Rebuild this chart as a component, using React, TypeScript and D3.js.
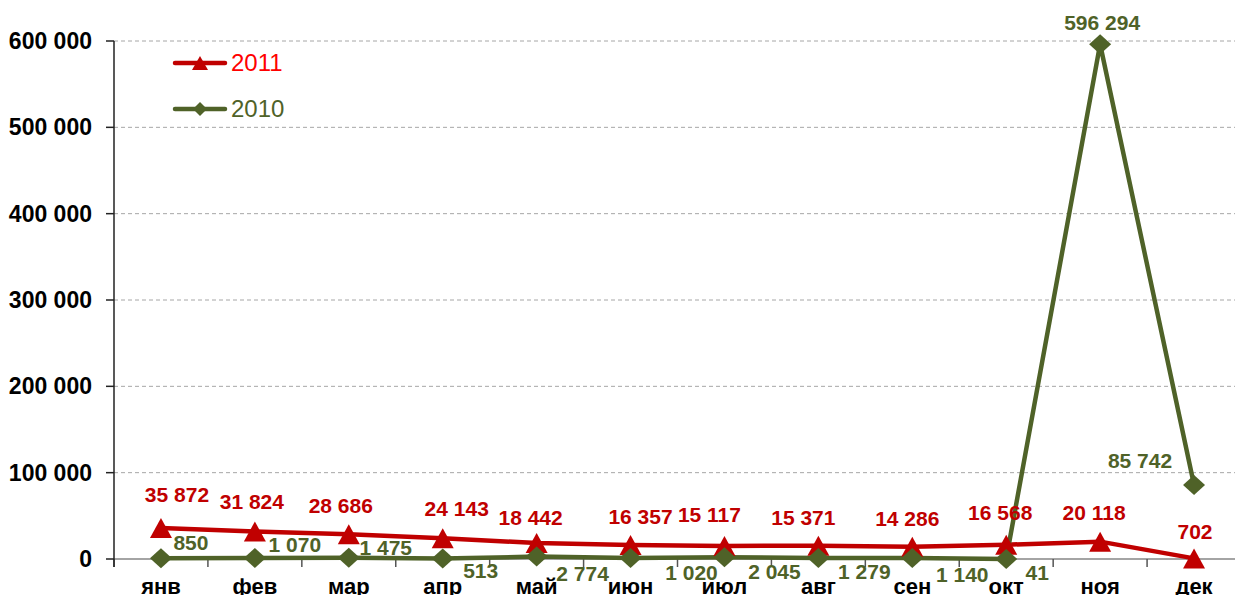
import React from 'react';
import { scaleBand, scaleLinear, line, range } from 'd3';

const months = ['янв', 'фев', 'мар', 'апр', 'май', 'июн', 'июл', 'авг', 'сен', 'окт', 'ноя', 'дек'];
const values2011 = [35872, 31824, 28686, 24143, 18442, 16357, 15117, 15371, 14286, 16568, 20118, 702];
const values2010 = [850, 1070, 1475, 513, 2774, 1020, 2045, 1279, 1140, 41, 596294, 85742];
const yTicks = [0, 100000, 200000, 300000, 400000, 500000, 600000];

// label nudges, as placed in the original spreadsheet
const offs2011: [number, number][] = [
  [16, -33], [-3, -30], [-8, -29], [14, -30], [-6, -25], [10, -28],
  [-15, -31], [-15, -28], [-5, -28], [-6, -32], [-6, -29], [1, -27],
];
const offs2010: [number, number][] = [
  [30, -16], [40, -13], [37, -10], [38, 12], [46, 17], [61, 15],
  [50, 14], [46, 14], [50, 17], [31, 14], [2, -22], [-54, -24],
];

const RED = '#C00000';
const GREEN = '#4F6228';
const FONT = '"Liberation Sans", Arial, sans-serif';

const fmt = (v: number) => {
  const s = String(Math.round(v));
  return s.replace(/\B(?=(\d{3})+(?!\d))/g, ' ');
};

const tri = (x: number, y: number, w: number, h: number) =>
  `M${x},${y - h / 2}L${x + w / 2},${y + h / 2}L${x - w / 2},${y + h / 2}Z`;
const dia = (x: number, y: number, w: number, h: number) =>
  `M${x},${y - h / 2}L${x + w / 2},${y}L${x},${y + h / 2}L${x - w / 2},${y}Z`;

const App = () => {
  const width = 1235;
  const height = 595;
  const left = 114;
  const x = scaleBand<string>().domain(months).range([left, 1241]);
  const y = scaleLinear().domain([0, 600000]).range([559, 41]);
  const cx = (i: number) => (x(months[i]) as number) + x.bandwidth() / 2;

  const mk = line<number>()
    .x((_, i) => cx(i))
    .y((d) => y(d));

  return (
    <svg
      width={width}
      height={height}
      style={{ position: 'absolute', left: 0, top: 0, background: '#fff' }}
      fontFamily={FONT}
    >
      {yTicks.slice(1).map((t) => (
        <line key={t} x1={left} x2={width} y1={y(t)} y2={y(t)} stroke="#A6A6A6" strokeWidth={1} strokeDasharray="4,3" />
      ))}
      <line x1={left} x2={1241} y1={y(0)} y2={y(0)} stroke="#868686" strokeWidth={1.5} />
      {range(months.length + 1).map((i) => {
        const xx = left + i * x.step();
        return <line key={i} x1={xx} x2={xx} y1={y(0)} y2={y(0) + 8} stroke="#555" strokeWidth={1.5} />;
      })}
      <line x1={left} x2={left} y1={y(600000)} y2={y(0) + 8} stroke="#222" strokeWidth={1.5} />
      {yTicks.map((t) => (
        <g key={t}>
          <line x1={left - 8} x2={left} y1={y(t)} y2={y(t)} stroke="#222" strokeWidth={1.5} />
          <text x={92} y={y(t)} dy="0.35em" textAnchor="end" fontSize={23} fontWeight="bold" fill="#000">
            {fmt(t)}
          </text>
        </g>
      ))}
      {months.map((m, i) => (
        <text key={m} x={cx(i)} y={594} textAnchor="middle" fontSize={22} fontWeight="bold" fill="#000">
          {m}
        </text>
      ))}

      <path d={mk(values2011) || ''} fill="none" stroke={RED} strokeWidth={4.5} strokeLinejoin="round" />
      <path d={mk(values2010) || ''} fill="none" stroke={GREEN} strokeWidth={4.5} strokeLinejoin="round" />
      {values2011.map((v, i) => (
        <path key={i} d={tri(cx(i), y(v), 22, 20)} fill={RED} />
      ))}
      {values2010.map((v, i) => (
        <path key={i} d={dia(cx(i), y(v), 22, 20)} fill={GREEN} />
      ))}

      {values2011.map((v, i) => (
        <text
          key={i}
          x={cx(i) + offs2011[i][0]}
          y={y(v) + offs2011[i][1]}
          dy="0.35em"
          textAnchor="middle"
          fontSize={21}
          fontWeight="bold"
          fill={RED}
        >
          {fmt(v)}
        </text>
      ))}
      {values2010.map((v, i) => (
        <text
          key={i}
          x={cx(i) + offs2010[i][0]}
          y={y(v) + offs2010[i][1]}
          dy="0.35em"
          textAnchor="middle"
          fontSize={21}
          fontWeight="bold"
          fill={GREEN}
        >
          {fmt(v)}
        </text>
      ))}

      <g>
        <line x1={175} x2={225} y1={63} y2={63} stroke={RED} strokeWidth={4.5} strokeLinecap="round" />
        <path d={tri(200, 63, 16, 14)} fill={RED} />
        <text x={231} y={63} dy="0.35em" fontSize={24} fill="#FF0000">2011</text>
        <line x1={175} x2={225} y1={109} y2={109} stroke={GREEN} strokeWidth={4.5} strokeLinecap="round" />
        <path d={dia(200, 109, 14, 14)} fill={GREEN} />
        <text x={231} y={109} dy="0.35em" fontSize={24} fill={GREEN}>2010</text>
      </g>
    </svg>
  );
};

export default App;
